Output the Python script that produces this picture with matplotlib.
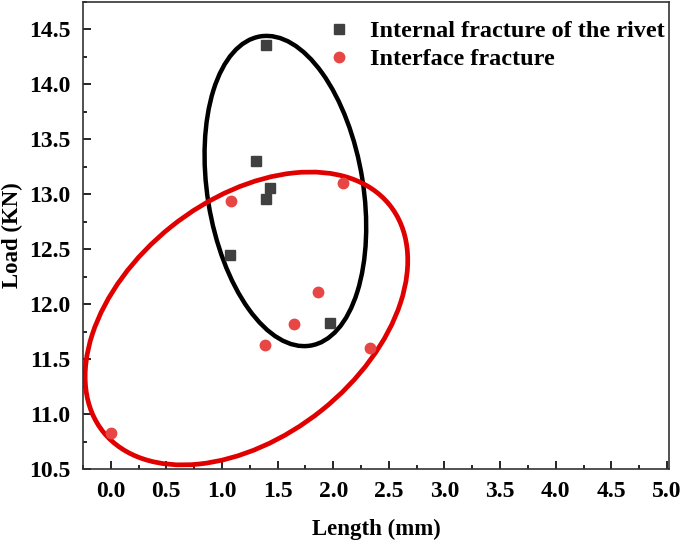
import matplotlib.pyplot as plt
from matplotlib.patches import Ellipse
from matplotlib.ticker import MultipleLocator

# Internal fracture of the rivet (black squares)
rivet_x = [1.40, 1.31, 1.43, 1.40, 1.07, 1.97]
rivet_y = [14.36, 13.30, 13.06, 12.96, 12.45, 11.83]

# Interface fracture (red circles)
iface_x = [1.08, 2.09, 1.86, 1.65, 1.39, 0.00, 2.33]
iface_y = [12.94, 13.10, 12.11, 11.82, 11.63, 10.83, 11.60]

# confidence ellipses: center, width, height, angle
rivet_ell = [(1.57, 13.03), 1.40, 2.85, 9]
iface_ell = [(1.22, 11.87), 3.30, 2.15, 39]

plt.rcParams['font.family'] = ['Liberation Serif', 'DejaVu Serif']
plt.rcParams['font.weight'] = 'bold'

fig = plt.figure(figsize=(6.85, 5.47), dpi=100)
ax = fig.add_axes([0.121, 0.1426, 0.856, 0.8537])

ax.add_patch(Ellipse(rivet_ell[0], rivet_ell[1], rivet_ell[2], angle=rivet_ell[3],
                     fill=False, edgecolor='black', linewidth=3.2, zorder=2))
ax.add_patch(Ellipse(iface_ell[0], iface_ell[1], iface_ell[2], angle=iface_ell[3],
                     fill=False, edgecolor='#e00000', linewidth=3.4, zorder=2))

ax.plot(rivet_x, rivet_y, 's', color='#404040', markersize=6.5, linestyle='none',
        label='Internal fracture of the rivet', zorder=3)
ax.plot(iface_x, iface_y, 'o', color='#e84545', markersize=7.5, linestyle='none',
        label='Interface fracture', zorder=3)

ax.set_xlim(-0.25, 5.02)
ax.set_ylim(10.5, 14.75)
ax.xaxis.set_major_locator(MultipleLocator(0.5))
ax.xaxis.set_minor_locator(MultipleLocator(0.25))
ax.yaxis.set_major_locator(MultipleLocator(0.5))
ax.yaxis.set_minor_locator(MultipleLocator(0.25))
ax.tick_params(which='both', direction='in', labelsize=17, pad=9, width=1.2)
ax.tick_params(which='major', length=6)
ax.tick_params(which='minor', length=3)
for s in ax.spines.values():
    s.set_linewidth(1.2)
    s.set_color('#333333')

ax.set_xlabel('Length (mm)', fontsize=16.5, fontweight='bold', labelpad=12)
ax.set_ylabel('Load (KN)', fontsize=16.5, fontweight='bold', labelpad=4)

ax.legend(loc='upper left', bbox_to_anchor=(0.378, 1.008), frameon=False,
          handlelength=1.0, handletextpad=0.8, labelspacing=0.25,
          prop={'weight': 'bold', 'size': 17.5})

fig.savefig('out.png', dpi=100)
